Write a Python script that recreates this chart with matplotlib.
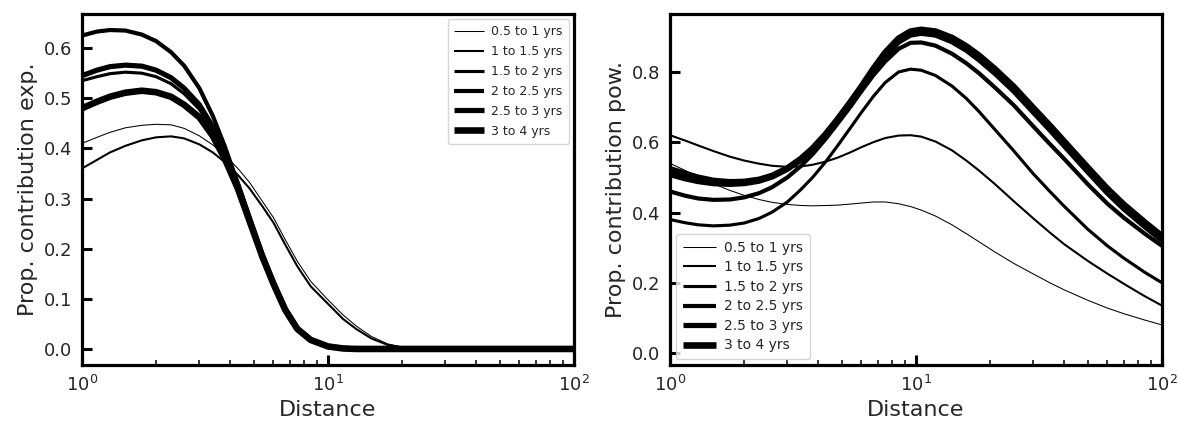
import numpy as np
import matplotlib
matplotlib.use("Agg")
import matplotlib.pyplot as plt

labels = ["0.5 to 1 yrs", "1 to 1.5 yrs", "1.5 to 2 yrs", "2 to 2.5 yrs", "2.5 to 3 yrs", "3 to 4 yrs"]

# Left panel (exponential component)
dist_exp = [1, 1.15, 1.3, 1.5, 1.75, 2, 2.3, 2.6, 3, 3.4, 3.8, 4.3, 4.8, 5.4, 6, 6.7, 7.5, 8.5, 10, 11.5, 13, 15, 17.5, 20, 25, 30, 50, 100]
exp_05_1 = [0.41, 0.422, 0.432, 0.441, 0.446, 0.448, 0.447, 0.44, 0.425, 0.407, 0.387, 0.36, 0.332, 0.295, 0.262, 0.218, 0.175, 0.135, 0.098, 0.068, 0.046, 0.025, 0.01, 0.004, 0.001, 0.0, 0.0, 0.0]
exp_1_15 = [0.36, 0.377, 0.392, 0.405, 0.416, 0.422, 0.424, 0.42, 0.408, 0.392, 0.373, 0.347, 0.32, 0.285, 0.252, 0.208, 0.165, 0.125, 0.09, 0.06, 0.04, 0.021, 0.008, 0.003, 0.001, 0.0, 0.0, 0.0]
exp_15_2 = [0.535, 0.543, 0.549, 0.552, 0.55, 0.543, 0.529, 0.509, 0.478, 0.437, 0.389, 0.326, 0.259, 0.188, 0.132, 0.08, 0.041, 0.018, 0.005, 0.001, 0.0, 0.0, 0.0, 0.0, 0.0, 0.0, 0.0, 0.0]
exp_2_25 = [0.625, 0.633, 0.636, 0.635, 0.627, 0.614, 0.592, 0.565, 0.52, 0.465, 0.405, 0.33, 0.26, 0.188, 0.13, 0.078, 0.04, 0.018, 0.005, 0.001, 0.0, 0.0, 0.0, 0.0, 0.0, 0.0, 0.0, 0.0]
exp_25_3 = [0.545, 0.556, 0.563, 0.566, 0.564, 0.556, 0.541, 0.52, 0.487, 0.443, 0.393, 0.328, 0.26, 0.188, 0.132, 0.08, 0.041, 0.018, 0.005, 0.001, 0.0, 0.0, 0.0, 0.0, 0.0, 0.0, 0.0, 0.0]
exp_3_4 = [0.48, 0.493, 0.503, 0.511, 0.515, 0.512, 0.503, 0.487, 0.462, 0.425, 0.38, 0.32, 0.255, 0.185, 0.13, 0.078, 0.04, 0.018, 0.005, 0.001, 0.0, 0.0, 0.0, 0.0, 0.0, 0.0, 0.0, 0.0]

# Right panel (power-law component)
dist_pow = [1, 1.15, 1.3, 1.5, 1.75, 2, 2.3, 2.6, 3, 3.4, 3.8, 4.3, 4.8, 5.4, 6, 6.7, 7.5, 8.5, 9.5, 10.5, 12, 14, 16, 18, 21, 25, 30, 35, 40, 50, 60, 70, 85, 100]
pow_05_1 = [0.54, 0.52, 0.502, 0.482, 0.463, 0.449, 0.437, 0.429, 0.423, 0.42, 0.419, 0.42, 0.421, 0.424, 0.427, 0.43, 0.43, 0.425, 0.417, 0.407, 0.39, 0.365, 0.34, 0.317, 0.287, 0.255, 0.225, 0.2, 0.18, 0.15, 0.128, 0.112, 0.094, 0.08]
pow_1_15 = [0.62, 0.605, 0.591, 0.575, 0.559, 0.548, 0.539, 0.533, 0.53, 0.531, 0.536, 0.545, 0.556, 0.571, 0.586, 0.6, 0.612, 0.619, 0.62, 0.616, 0.602, 0.577, 0.548, 0.52, 0.48, 0.432, 0.383, 0.343, 0.31, 0.262, 0.226, 0.197, 0.162, 0.135]
pow_15_2 = [0.38, 0.371, 0.365, 0.362, 0.364, 0.37, 0.383, 0.401, 0.43, 0.465, 0.5, 0.545, 0.59, 0.64, 0.685, 0.73, 0.77, 0.8, 0.808, 0.805, 0.79, 0.76, 0.725, 0.688, 0.635, 0.575, 0.51, 0.46, 0.418, 0.352, 0.305, 0.27, 0.23, 0.2]
pow_2_25 = [0.46, 0.448, 0.44, 0.436, 0.437, 0.443, 0.455, 0.472, 0.5, 0.532, 0.566, 0.61, 0.653, 0.7, 0.745, 0.79, 0.83, 0.866, 0.883, 0.884, 0.875, 0.852, 0.825, 0.797, 0.755, 0.705, 0.645, 0.595, 0.553, 0.48, 0.425, 0.385, 0.34, 0.305]
pow_25_3 = [0.525, 0.512, 0.501, 0.492, 0.488, 0.489, 0.495, 0.506, 0.527, 0.553, 0.582, 0.622, 0.662, 0.708, 0.752, 0.8, 0.845, 0.885, 0.905, 0.91, 0.905, 0.886, 0.862, 0.835, 0.795, 0.745, 0.685, 0.635, 0.59, 0.515, 0.455, 0.41, 0.36, 0.32]
pow_3_4 = [0.51, 0.498, 0.49, 0.484, 0.482, 0.484, 0.491, 0.503, 0.525, 0.552, 0.582, 0.623, 0.665, 0.713, 0.758, 0.808, 0.855, 0.895, 0.915, 0.92, 0.915, 0.897, 0.873, 0.847, 0.807, 0.757, 0.697, 0.647, 0.602, 0.527, 0.467, 0.422, 0.372, 0.332]

exp_series = [exp_05_1, exp_1_15, exp_15_2, exp_2_25, exp_25_3, exp_3_4]
pow_series = [pow_05_1, pow_1_15, pow_15_2, pow_2_25, pow_25_3, pow_3_4]
widths = [0.75, 1.5, 2.25, 3.0, 3.75, 4.75]

text_color = "#262626"
plt.rcParams["font.family"] = ["DejaVu Sans"]

fig = plt.figure(figsize=(11.78, 4.29), dpi=100)
ax1 = fig.add_axes([82/1178, 1-365/429, (574-82)/1178, (365-14)/429])
ax2 = fig.add_axes([670/1178, 1-365/429, (1162-670)/1178, (365-14)/429])

for ax, dist, series, ylab, ylim, yt, loc, lfs, lsp in [
    (ax1, dist_exp, exp_series, "Prop. contribution exp.", (-0.032, 0.668), [0, 0.1, 0.2, 0.3, 0.4, 0.5, 0.6], "upper right", 9.0, 0.55),
    (ax2, dist_pow, pow_series, "Prop. contribution pow.", (-0.034, 0.965), [0, 0.2, 0.4, 0.6, 0.8], "lower left", 10.0, 0.4),
]:
    for vals, lw, lab in zip(series, widths, labels):
        ax.plot(dist, vals, color="black", lw=lw, label=lab, solid_capstyle="butt", solid_joinstyle="round")
    ax.set_xscale("log")
    ax.set_xlim(1, 100)
    ax.set_ylim(*ylim)
    ax.set_yticks(yt)
    ax.set_yticklabels([f"{v:.1f}" for v in yt])
    ax.set_xlabel("Distance", fontsize=16, color=text_color)
    ax.set_ylabel(ylab, fontsize=16, color=text_color)
    for s in ax.spines.values():
        s.set_linewidth(2.3)
        s.set_color("black")
    ax.tick_params(which="major", direction="in", length=7, width=2.2, labelsize=13,
                   labelcolor=text_color, color="black", pad=7)
    ax.tick_params(which="minor", direction="in", length=3.5, width=1.1, color="black")
    ax.tick_params(axis="y", which="minor", left=False)
    leg = ax.legend(loc=loc, fontsize=lfs, frameon=True, handlelength=2.4, borderpad=0.5,
                    labelspacing=lsp, handletextpad=0.6, borderaxespad=0.4)
    for t in leg.get_texts():
        t.set_color(text_color)

fig.savefig("out.png", dpi=100)
